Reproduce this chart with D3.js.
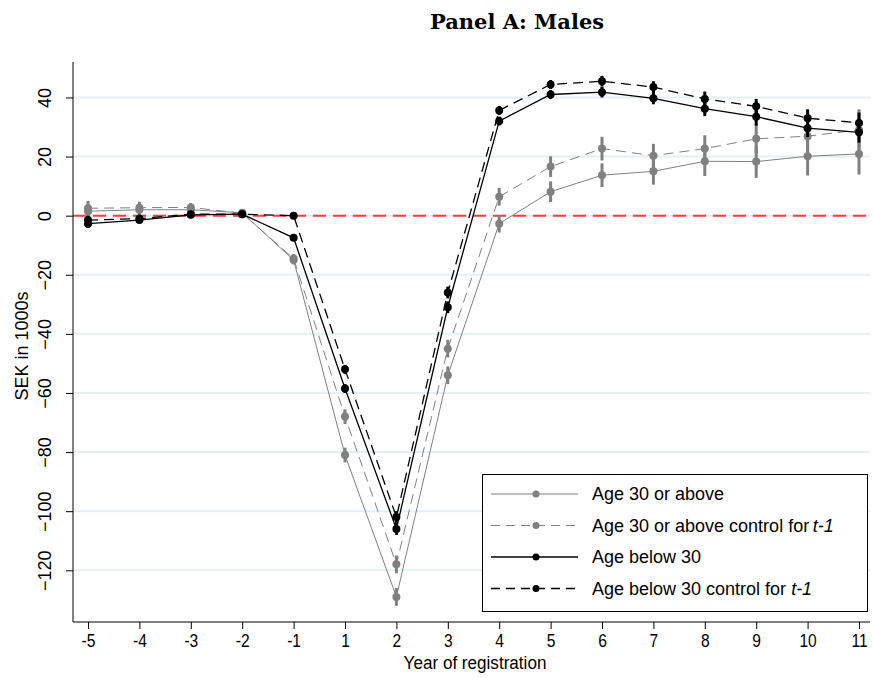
<!DOCTYPE html>
<html>
<head>
<meta charset="utf-8">
<script src="https://cdn.jsdelivr.net/npm/d3@7"></script>
<style>
  html, body { margin: 0; padding: 0; background: #fff; }
  svg { display: block; }
  .narrow { font-family: "Liberation Sans", Arial, sans-serif; }
</style>
</head>
<body>
<div id="chart"></div>
<script>
// data
var years = ['-5', '-4', '-3', '-2', '-1', '1', '2', '3', '4', '5', '6', '7', '8', '9', '10', '11'];

var age30Above     = [1.5, 2, 2, 1, -15, -81, -129, -54, -2.7, 8.1, 13.7, 15, 18.4, 18.3, 20.1, 20.9];
var age30AboveCtrl = [2.5, 2.7, 2.8, 0.8, -14.5, -68, -118, -45, 6.4, 16.6, 22.7, 20.3, 22.7, 26, 26.9, 29];
var ageBelow30     = [-2.7, -1.5, 0.3, 0.5, -7.5, -58.5, -106, -31, 32, 41, 41.8, 39.7, 36.2, 33.5, 29.6, 28.2];
var ageBelow30Ctrl = [-1.5, -1, 0.5, 0.5, 0, -52, -102, -26, 35.6, 44.4, 45.5, 43.5, 39.5, 37, 33, 31.4];

// half widths of the confidence bars
var ci30Above     = [2.5, 2, 1.5, 1, 1.5, 2.5, 3, 3, 3, 3.5, 4, 4.5, 5, 5.5, 6.5, 7];
var ci30AboveCtrl = [2.5, 2, 1.5, 1, 1.5, 2.5, 3, 3, 3, 3.5, 4, 4, 4.5, 5, 6, 7];
var ciBelow30     = [1.5, 1, 1, 0.8, 1, 1.5, 2, 2, 1.5, 1.5, 1.8, 2, 2.5, 3, 3, 3.5];
var ciBelow30Ctrl = [1.5, 1, 1, 0.8, 1, 1.5, 2, 2, 1.5, 1.5, 1.8, 2, 2.5, 2.5, 3, 3.5];

var yTicks = [40, 20, 0, -20, -40, -60, -80, -100, -120];

(function(d3) {

  var width = 873, height = 678;
  var left = 73, right = 870, top = 62, bottom = 622;
  var gray = '#808080';

  var series = [
    { name: 'Age 30 or above', values: age30Above, ci: ci30Above, color: gray, dash: null, w: 1 },
    { name: 'Age 30 or above control for\u2009', values: age30AboveCtrl, ci: ci30AboveCtrl, color: gray, dash: '10,6', w: 1 },
    { name: 'Age below 30', values: ageBelow30, ci: ciBelow30, color: '#000', dash: null, w: 1.3 },
    { name: 'Age below 30 control for ', values: ageBelow30Ctrl, ci: ciBelow30Ctrl, color: '#000', dash: '10,6', w: 1.3 }
  ];
  var italicTail = [null, 't-1', null, 't-1'];

  var svg = d3.select('#chart').append('svg')
    .attr('width', width)
    .attr('height', height);

  var x = d3.scalePoint()
    .domain(years)
    .range([88, 859]);

  var y = d3.scaleLinear()
    .domain([-137.5, 52])
    .range([bottom, top]);

  // grid
  svg.append('g')
    .selectAll('line')
    .data(yTicks)
    .join('line')
      .attr('x1', left).attr('x2', right)
      .attr('y1', function(d) { return y(d); })
      .attr('y2', function(d) { return y(d); })
      .attr('stroke', '#e6eff2')
      .attr('stroke-width', 2);

  // zero line
  svg.append('line')
    .attr('x1', left).attr('x2', right)
    .attr('y1', y(0)).attr('y2', y(0))
    .attr('stroke', '#ff3c3c')
    .attr('stroke-width', 2)
    .attr('stroke-dasharray', '13,7');

  // y axis
  var yAxis = svg.append('g')
    .attr('transform', 'translate(' + left + ',0)')
    .call(d3.axisLeft(y).tickValues(yTicks).tickSize(7).tickPadding(0).tickSizeOuter(0));
  yAxis.select('.domain').attr('d', 'M0,' + top + 'V' + bottom).attr('stroke', '#000');
  yAxis.selectAll('.tick line').attr('stroke', '#000');
  yAxis.selectAll('.tick text')
    .attr('x', null).attr('dy', null)
    .attr('transform', 'translate(-22,0) rotate(-90)')
    .attr('text-anchor', 'middle')
    .style('font-family', '"Liberation Sans", Arial, sans-serif')
    .style('font-size', '18px')
    .attr('fill', '#000');

  // x axis
  var xAxis = svg.append('g')
    .attr('transform', 'translate(0,' + bottom + ')')
    .call(d3.axisBottom(x).tickSize(7).tickPadding(5).tickSizeOuter(0));
  xAxis.select('.domain').attr('d', 'M' + left + ',0H' + right).attr('stroke', '#000');
  xAxis.selectAll('.tick line').attr('stroke', '#000');
  xAxis.selectAll('.tick text')
    .attr('class', 'narrow')
    .attr('transform', 'scale(0.82,1)')
    .style('font-size', '19px')
    .attr('fill', '#000');

  // axis titles
  svg.append('text')
    .attr('class', 'narrow')
    .attr('transform', 'translate(475,669) scale(0.9,1)')
    .attr('text-anchor', 'middle')
    .style('font-size', '19px')
    .text('Year of registration');

  svg.append('text')
    .attr('transform', 'translate(28,346) rotate(-90)')
    .attr('text-anchor', 'middle')
    .style('font-family', '"Liberation Sans", Arial, sans-serif')
    .style('font-size', '18px')
    .text('SEK in 1000s');

  // title
  svg.append('text')
    .attr('x', 517).attr('y', 29)
    .attr('text-anchor', 'middle')
    .style('font-family', '"DejaVu Serif", serif')
    .style('font-weight', 'bold')
    .style('font-size', '21px')
    .text('Panel A: Males');

  var line = d3.line()
    .x(function(d, i) { return x(years[i]); })
    .y(function(d) { return y(d); });

  series.forEach(function(s) {
    var g = svg.append('g');

    g.selectAll('line')
      .data(s.values)
      .join('line')
        .attr('x1', function(d, i) { return x(years[i]); })
        .attr('x2', function(d, i) { return x(years[i]); })
        .attr('y1', function(d, i) { return y(d - s.ci[i]); })
        .attr('y2', function(d, i) { return y(d + s.ci[i]); })
        .attr('stroke', s.color)
        .attr('stroke-width', 3);

    g.append('path')
      .attr('d', line(s.values))
      .attr('fill', 'none')
      .attr('stroke', s.color)
      .attr('stroke-width', s.w)
      .attr('stroke-dasharray', s.dash);

    g.selectAll('circle')
      .data(s.values)
      .join('circle')
        .attr('cx', function(d, i) { return x(years[i]); })
        .attr('cy', function(d) { return y(d); })
        .attr('r', 4)
        .attr('fill', s.color);
  });

  // legend
  var lg = svg.append('g');
  lg.append('rect')
    .attr('x', 482.5).attr('y', 474.5)
    .attr('width', 385).attr('height', 137)
    .attr('fill', '#fff')
    .attr('stroke', '#000');

  series.forEach(function(s, i) {
    var ly = 494 + i * 31.5;
    lg.append('line')
      .attr('x1', 491).attr('x2', 578)
      .attr('y1', ly).attr('y2', ly)
      .attr('stroke', s.color)
      .attr('stroke-width', s.w)
      .attr('stroke-dasharray', s.dash ? '9,6' : null);
    lg.append('circle')
      .attr('cx', 536).attr('cy', ly)
      .attr('r', 3.5)
      .attr('fill', s.color);
    var t = lg.append('text')
      .attr('x', 592).attr('y', ly + 6)
      .style('font-family', '"Liberation Sans", Arial, sans-serif')
      .style('font-size', '18px')
      .text(s.name);
    if (italicTail[i]) {
      t.append('tspan')
        .style('font-style', 'italic')
        .text(italicTail[i]);
    }
  });

})(d3);
</script>
</body>
</html>
